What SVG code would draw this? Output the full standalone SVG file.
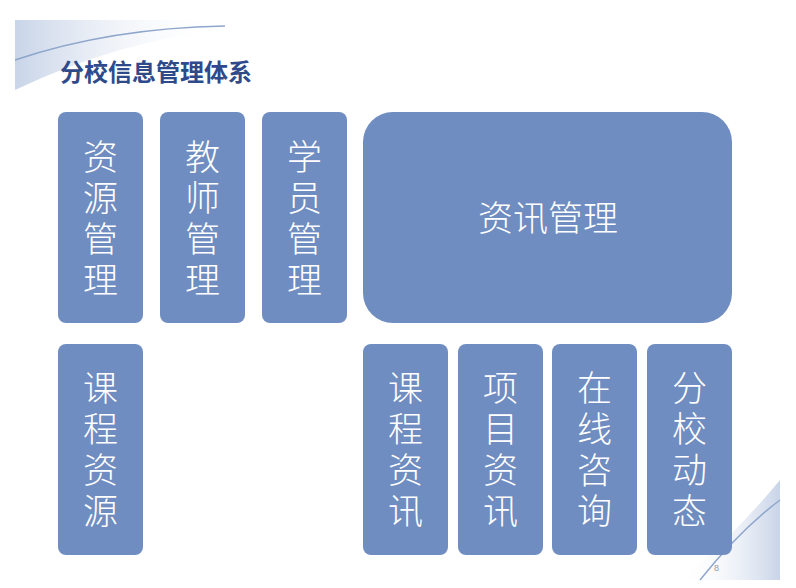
<svg xmlns="http://www.w3.org/2000/svg" width="796" height="588" viewBox="0 0 796 588">
<defs>
<linearGradient id="sw" x1="0" y1="0" x2="1" y2="0">
<stop offset="0" stop-color="#c8d4e8"/><stop offset="1" stop-color="#ffffff" stop-opacity="0"/>
</linearGradient>
<linearGradient id="sw2" x1="1" y1="0" x2="0" y2="0">
<stop offset="0" stop-color="#c8d4e8"/><stop offset="1" stop-color="#ffffff" stop-opacity="0"/>
</linearGradient>
</defs>
<style>
.b{fill:#6f8dc0}
.t{fill:#fff;font-family:"Noto Sans CJK SC",sans-serif;font-weight:300;font-size:35px;text-anchor:middle}
</style>
<rect width="796" height="588" fill="#fff"/>
<g id="deco">
<path d="M15 20 L225 20 L225 30 Q120 40 15 90 Z" fill="url(#sw)"/>
<path d="M15 60 Q110 28 225 26" stroke="#8fa6cc" stroke-width="1.5" fill="none"/>
<path d="M780 480 L780 580 L680 580 Q730 540 780 480 Z" fill="url(#sw2)"/>
<path d="M700 580 Q740 530 780 500" stroke="#8fa6cc" stroke-width="1.5" fill="none"/>
</g>
<text x="60" y="81" font-family="Noto Sans CJK SC,sans-serif" font-weight="bold" font-size="24" fill="#2e4a8a">分校信息管理体系</text>
<text x="714" y="571" font-family="Liberation Sans,sans-serif" font-size="9" fill="#999">8</text>
<g id="n1"><rect class="b" x="58" y="112" width="85" height="211" rx="8"/><text class="t" x="100.5" y="170">资</text><text class="t" x="100.5" y="211">源</text><text class="t" x="100.5" y="252">管</text><text class="t" x="100.5" y="293">理</text></g>
<g id="n2"><rect class="b" x="160" y="112" width="85" height="211" rx="8"/><text class="t" x="202.5" y="170">教</text><text class="t" x="202.5" y="211">师</text><text class="t" x="202.5" y="252">管</text><text class="t" x="202.5" y="293">理</text></g>
<g id="n3"><rect class="b" x="262" y="112" width="85" height="211" rx="8"/><text class="t" x="304.5" y="170">学</text><text class="t" x="304.5" y="211">员</text><text class="t" x="304.5" y="252">管</text><text class="t" x="304.5" y="293">理</text></g>
<g id="n4"><rect class="b" x="363" y="112" width="369" height="211" rx="30"/><text class="t" x="548" y="231">资讯管理</text></g>
<g id="n5"><rect class="b" x="58" y="344" width="85" height="211" rx="8"/><text class="t" x="100.5" y="401">课</text><text class="t" x="100.5" y="442">程</text><text class="t" x="100.5" y="483">资</text><text class="t" x="100.5" y="524">源</text></g>
<g id="n6"><rect class="b" x="363" y="344" width="85" height="211" rx="8"/><text class="t" x="405.5" y="401">课</text><text class="t" x="405.5" y="442">程</text><text class="t" x="405.5" y="483">资</text><text class="t" x="405.5" y="524">讯</text></g>
<g id="n7"><rect class="b" x="458" y="344" width="85" height="211" rx="8"/><text class="t" x="500.5" y="401">项</text><text class="t" x="500.5" y="442">目</text><text class="t" x="500.5" y="483">资</text><text class="t" x="500.5" y="524">讯</text></g>
<g id="n8"><rect class="b" x="552" y="344" width="85" height="211" rx="8"/><text class="t" x="594.5" y="401">在</text><text class="t" x="594.5" y="442">线</text><text class="t" x="594.5" y="483">咨</text><text class="t" x="594.5" y="524">询</text></g>
<g id="n9"><rect class="b" x="647" y="344" width="85" height="211" rx="8"/><text class="t" x="689.5" y="401">分</text><text class="t" x="689.5" y="442">校</text><text class="t" x="689.5" y="483">动</text><text class="t" x="689.5" y="524">态</text></g>
<g id="connectors"/>
</svg>
